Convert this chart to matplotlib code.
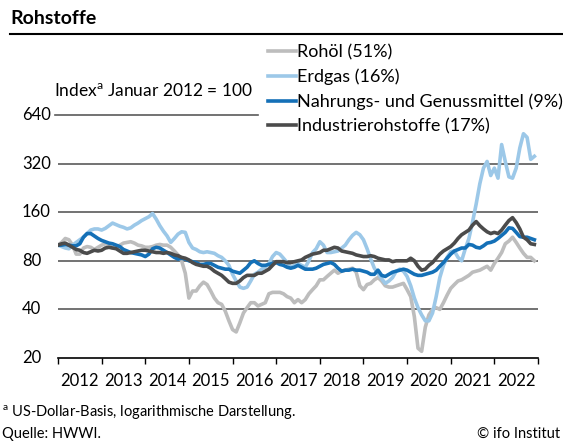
import numpy as np
import matplotlib
matplotlib.use("Agg")
import matplotlib.pyplot as plt
from matplotlib.lines import Line2D
import matplotlib.transforms as mtransforms

plt.rcParams['font.family'] = ['Lato', 'DejaVu Sans']
plt.rcParams['mathtext.fontset'] = 'custom'
plt.rcParams['mathtext.rm'] = 'Lato'

# monthly index values, Jan 2012 = 100 (Jan 2012 .. Dec 2022)
rohoel = [100, 104, 110, 108, 100, 88, 88, 96, 98, 97, 94, 97,
          100, 102, 100, 96, 97, 100, 103, 104, 105, 103, 100, 99,
          97, 97, 98, 100, 101, 100, 100, 97, 92, 87, 80, 67,
          47, 52, 52, 56, 59, 57, 52, 47, 44, 43, 39, 34,
          30, 29, 33, 38, 41, 44, 44, 42, 43, 44, 50, 51,
          51, 51, 50, 48, 47, 44, 46, 44, 46, 50, 53, 56,
          61, 61, 64, 67, 70, 67, 69, 70, 71, 72, 68, 56,
          53, 57, 58, 61, 63, 60, 56, 55, 55, 56, 57, 58,
          53, 48, 36, 23, 22, 31, 37, 40, 41, 40, 44, 49,
          54, 57, 60, 61, 63, 65, 68, 69, 70, 72, 74, 70,
          77, 83, 90, 102, 106, 112, 104, 96, 89, 84, 84, 80]

erdgas = [100, 98, 96, 95, 100, 104, 108, 112, 118, 124, 126, 126,
          124, 127, 132, 137, 134, 131, 129, 126, 128, 133, 137, 142,
          146, 150, 157, 145, 132, 122, 114, 104, 110, 117, 121, 120,
          104, 96, 94, 91, 90, 91, 90, 89, 86, 84, 80, 75,
          66, 60, 55, 54, 55, 60, 66, 68, 71, 73, 77, 85,
          90, 88, 83, 78, 73, 75, 77, 75, 73, 80, 90, 95,
          105, 100, 90, 90, 91, 92, 96, 100, 108, 115, 120, 116,
          108, 95, 82, 72, 67, 62, 58, 60, 63, 69, 71, 69,
          64, 56, 47, 41, 37, 34, 34, 38, 48, 63, 75, 84,
          91, 92, 84, 80, 95, 110, 139, 180, 240, 300, 330, 270,
          300, 260, 420, 330, 265, 260, 300, 400, 490, 465, 340, 355]

nahrung = [100, 100, 101, 100, 99, 99, 102, 112, 118, 118, 114, 110,
           107, 105, 103, 102, 100, 98, 94, 92, 90, 89, 88, 87,
           85, 88, 95, 97, 96, 93, 90, 87, 84, 82, 83, 82,
           80, 79, 78, 76, 76, 77, 77, 75, 73, 72, 71, 71,
           69, 68, 67, 70, 73, 78, 80, 77, 75, 75, 76, 77,
           78, 76, 75, 73, 72, 73, 75, 73, 71, 71, 71, 72,
           74, 76, 77, 78, 76, 72, 69, 70, 70, 71, 70, 70,
           69, 68, 66, 66, 70, 65, 64, 66, 68, 69, 70, 71,
           70, 68, 66, 65, 65, 66, 67, 68, 70, 74, 78, 83,
           88, 92, 94, 96, 96, 101, 100, 97, 96, 99, 103, 104,
           106, 110, 115, 120, 128, 127, 120, 113, 112, 112, 110, 108]

industrie = [100, 102, 103, 100, 97, 94, 93, 90, 89, 91, 93, 92,
             93, 96, 97, 96, 95, 92, 89, 89, 90, 91, 92, 93,
             93, 92, 91, 90, 90, 89, 90, 89, 87, 86, 84, 83,
             81, 78, 76, 75, 74, 74, 72, 69, 67, 65, 62, 59,
             58, 58, 60, 63, 65, 65, 65, 67, 67, 69, 71, 75,
             79, 79, 79, 78, 78, 79, 80, 81, 84, 86, 88, 89,
             90, 93, 93, 95, 97, 96, 92, 91, 90, 89, 87, 86,
             85, 85, 86, 85, 83, 82, 81, 81, 79, 80, 80, 80,
             80, 83, 80, 74, 70, 71, 75, 78, 83, 88, 92, 95,
             98, 103, 110, 116, 120, 124, 133, 140, 132, 126, 121, 118,
             120, 118, 124, 133, 142, 148, 138, 126, 112, 108, 102, 101]

dates = 2012 + np.arange(len(rohoel)) / 12

series = [("Rohöl (51%)", rohoel, "#bdbdbd"),
          ("Erdgas (16%)", erdgas, "#9cc8e8"),
          ("Nahrungs- und Genussmittel (9%)", nahrung, "#1470b7"),
          ("Industrierohstoffe (17%)", industrie, "#4b4b4b")]

years = list(range(2012, 2023))
yticks = [20, 40, 80, 160, 320, 640]

W, H = 563, 441
fig = plt.figure(figsize=(W / 100, H / 100), dpi=100)
ax = fig.add_axes([58 / W, 1 - 358 / H, 480 / W, (358 - 115) / H])
ax.set_yscale("log")
ax.set_ylim(20, 640)
ax.set_xlim(2012, 2023)

for v in yticks[1:-1]:
    ax.axhline(v, color="#5a5a5a", lw=1.2, zorder=1)
ax.axhline(640, xmin=-3 / 480, xmax=(258 - 58) / 480, color="#5a5a5a", lw=1.2,
           zorder=1, clip_on=False)

for label, vals, col in series:
    ax.plot(dates, vals, color=col, lw=2.6, label=label, zorder=3,
            solid_joinstyle="round")

for s in ["top", "right", "left"]:
    ax.spines[s].set_visible(False)
ax.spines["bottom"].set_color("black")
ax.spines["bottom"].set_linewidth(1.2)
ax.set_xticks(range(2012, 2024))
ax.set_xticklabels([])
ax.tick_params(axis="x", which="major", length=4, width=1, color="black")
ax.set_xticks([y + 0.5 for y in years], minor=True)
ax.set_xticklabels([str(y) for y in years], minor=True, fontsize=12)
ax.tick_params(axis="x", which="minor", length=0, pad=11)
ax.set_yticks([])
ax.yaxis.set_minor_locator(matplotlib.ticker.NullLocator())

trans = mtransforms.blended_transform_factory(fig.transFigure, ax.transData)
for v in yticks:
    ax.text(22 / W, v, str(v), transform=trans, ha="left", va="center",
            fontsize=12)

fig.text(10 / W, 1 - 18 / H, "Rohstoffe", fontsize=14, fontweight="bold",
         ha="left", va="center")
fig.add_artist(Line2D([10 / W, 1], [1 - 34 / H, 1 - 34 / H], color="black",
                      lw=1.5, transform=fig.transFigure))
fig.text(54 / W, 1 - 91 / H, r"Index$^{\mathrm{a}}$ Januar 2012 = 100",
         fontsize=12.5, ha="left", va="center")

fig.legend(loc="upper left", bbox_to_anchor=(268 / W, 1 - 44 / H),
           frameon=False, fontsize=13, handlelength=1.55, handletextpad=0.08,
           labelspacing=0.46, borderpad=0, borderaxespad=0)

fig.text(2 / W, 1 - 413 / H, r"$^{\mathrm{a}}$ US-Dollar-Basis, logarithmische Darstellung.",
         fontsize=10.5, ha="left", va="center")
fig.text(2 / W, 1 - 434 / H, "Quelle: HWWI.", fontsize=10.5, ha="left", va="center")
fig.text(560 / W, 1 - 434 / H, "© ifo Institut", fontsize=10.5, ha="right", va="center")

fig.savefig("out.png", dpi=100)
